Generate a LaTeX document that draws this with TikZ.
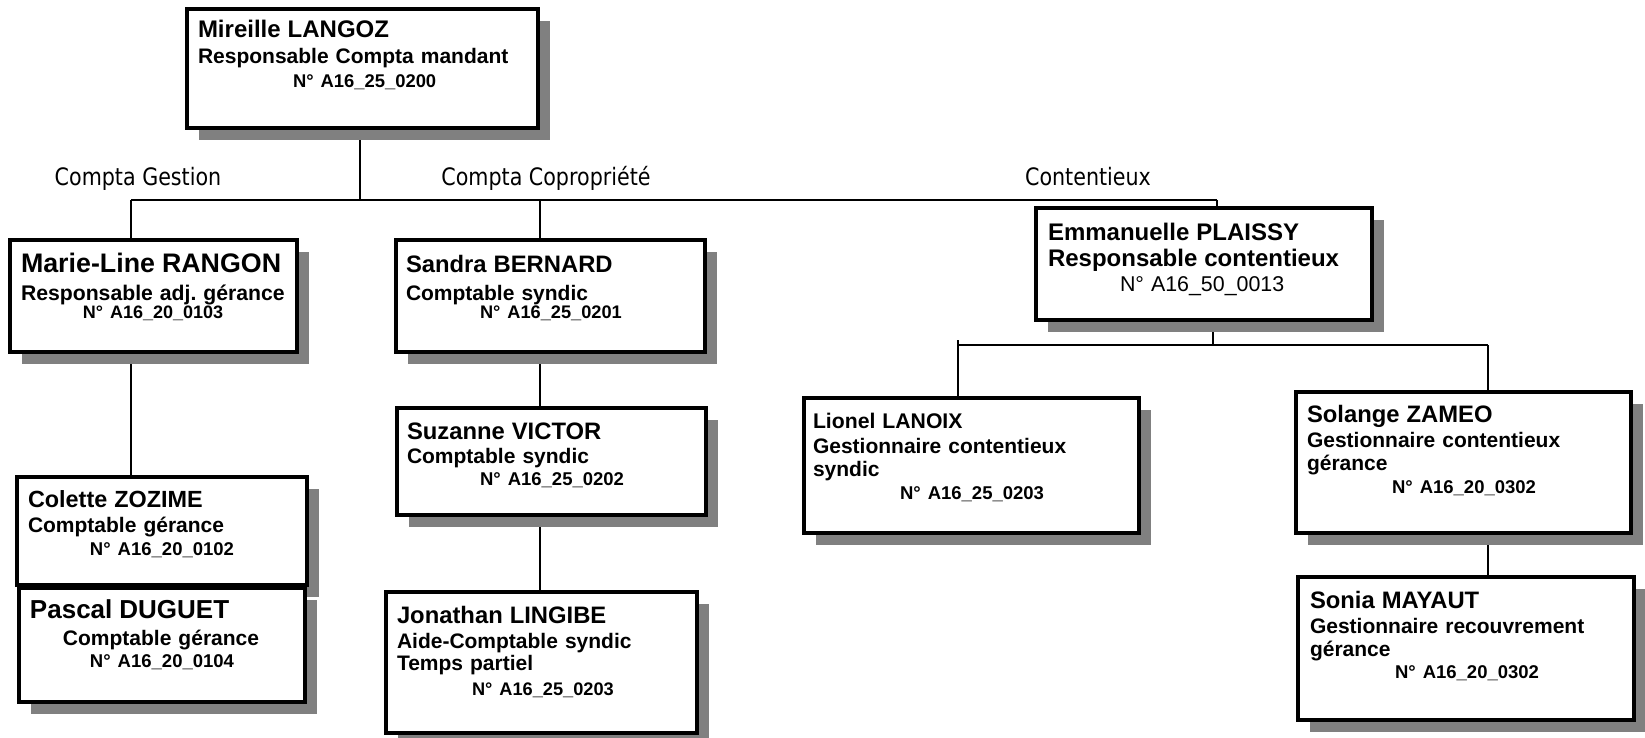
\documentclass[tikz,border=0pt]{standalone}
\usepackage{fontspec}
\setmainfont{Liberation Sans}
\newfontfamily\labelfont[FakeStretch=0.86]{DejaVu Sans}
\usetikzlibrary{backgrounds}
\usetikzlibrary{shadows}
\newcommand{\taille}[1]{\fontsize{#1}{11.5pt}\selectfont}

\begin{document}
\begin{tikzpicture}[x=0.5pt,y=-0.5pt,
	fiche/.style={draw,line width=1.6pt,fill=white,anchor=north west,outer sep=0pt,
		inner xsep=5.5pt,inner ysep=0pt,align=left,
		font=\fontsize{10.5pt}{11.5pt}\selectfont\bfseries,
		drop shadow={shadow xshift=6pt,shadow yshift=-6pt,opacity=1,fill=gray}},
	lien/.style={line width=0.85pt},
	pole/.style={anchor=base,font=\labelfont\fontsize{12pt}{14pt}\selectfont}]
	\useasboundingbox (0,0) rectangle (1645,738);
	
	% direction
	\node[fiche,text width=164.5pt,text height=14.5pt,text depth=45pt] (lang) at (187,9)
	{{\taille{12pt}Mireille LANGOZ}\\[1.5pt]
		Responsable Compta mandant\\[0.5pt]
		\hspace*{47.5pt}{\taille{9.2pt}N° A16\_25\_0200}};
	
	\node[pole] (pg) at (138,185) {Compta Gestion};
	\node[pole] (pc) at (546,185) {Compta Copropriété};
	\node[pole] (pt) at (1088,185) {Contentieux};
	
	% compta gestion
	\node[fiche,text width=132.5pt,text height=16pt,text depth=40pt] (rang) at (10,240)
	{\mbox{\taille{13.4pt}Marie-Line RANGON}\\[2.5pt]
		\mbox{\taille{10.6pt}Responsable adj.\ gérance}\\[-2.5pt]
		\hspace*{31pt}{\taille{9pt}N° A16\_20\_0103}};
	\node[fiche,text width=134pt,text height=15pt,text depth=39pt] (zozi) at (17,477)
	{{\taille{11.7pt}Colette ZOZIME}\\[1pt]
		Comptable gérance\\
		\hspace*{31pt}{\taille{9.25pt}N° A16\_20\_0102}};
	\node[fiche,text width=132pt,text height=15pt,text depth=42pt] (dugu) at (19,588)
	{{\taille{13pt}Pascal DUGUET}\\[2pt]
		\hspace*{16.5pt}Comptable gérance\\[-0.5pt]
		\hspace*{30pt}{\taille{9.25pt}N° A16\_20\_0104}};
	
	% compta copropriete
	\node[fiche,inner xsep=5pt,text width=144.5pt,text height=16pt,text depth=40pt] (bern) at (396,240)
	{{\taille{11.9pt}Sandra BERNARD}\\[2.5pt]
		Comptable syndic\\[-2.5pt]
		\hspace*{37pt}{\taille{9.1pt}N° A16\_25\_0201}};
	\node[fiche,inner xsep=5pt,text width=144.5pt,text height=15.5pt,text depth=38pt] (vict) at (397,408)
	{{\taille{11.9pt}Suzanne VICTOR}\\[0.5pt]
		Comptable syndic\\[-0.5pt]
		\hspace*{36.5pt}{\taille{9.25pt}N° A16\_25\_0202}};
	\node[fiche,text width=144.5pt,text height=15.5pt,text depth=55pt] (ling) at (386,592)
	{{\taille{11.9pt}Jonathan LINGIBE}\\[1pt]
		Aide-Comptable syndic\\[-0.5pt]
		Temps partiel\\[1pt]
		\hspace*{37.5pt}{\taille{9.1pt}N° A16\_25\_0203}};
	
	% contentieux
	\node[fiche,inner xsep=6pt,text width=156pt,text height=16.5pt,text depth=39.5pt] (plai) at (1036,208)
	{{\taille{12pt}Emmanuelle PLAISSY}\\[1.5pt]
		{\taille{12pt}Responsable contentieux}\\[1pt]
		\hspace*{36pt}{\taille{10.7pt}\mdseries N° A16\_50\_0013}};
	\node[fiche,inner xsep=4.5pt,text width=158.5pt,text height=15pt,text depth=52.5pt] (lano) at (804,398)
	{{\taille{10.6pt}Lionel LANOIX}\\[1pt]
		Gestionnaire contentieux\\
		syndic\\
		\hspace*{43.5pt}{\taille{9.25pt}N° A16\_25\_0203}};
	\node[fiche,text width=156.5pt,text height=15pt,text depth=55.5pt] (zame) at (1296,392)
	{{\taille{11.9pt}Solange ZAMEO}\\[1pt]
		Gestionnaire contentieux\\
		gérance\\
		\hspace*{42.5pt}{\taille{9.25pt}N° A16\_20\_0302}};
	\node[fiche,inner xsep=6pt,text width=156pt,text height=15.5pt,text depth=56pt] (maya) at (1298,577)
	{{\taille{11.9pt}Sonia MAYAUT}\\[1pt]
		Gestionnaire recouvrement\\
		gérance\\[-0.5pt]
		\hspace*{42.5pt}{\taille{9.25pt}N° A16\_20\_0302}};
	
	% liaisons, sous les fiches
	\begin{scope}[on background layer]
		\fill[white] (0,0) rectangle (1645,738);
		\coordinate (bg) at (131,200);
		\coordinate (pA) at (360,200);
		\coordinate (pS) at (540,200);
		\coordinate (pE) at (1217,200);
		\coordinate (pC) at (1213,345);
		\coordinate (sg) at (958,340);
		\coordinate (sd) at (1488,345);
		\draw[lien] (bg) -- (pE);
		\draw[lien] (pA) -- (pA |- lang.south);
		\draw[lien] (bg) -- (bg |- rang.north);
		\draw[lien] (pS) -- (pS |- bern.north);
		\draw[lien] (pE) -- (pE |- plai.north);
		\draw[lien] (rang.south -| bg) -- (zozi.north -| bg);
		\draw[lien] (bern.south -| pS) -- (vict.north -| pS);
		\draw[lien] (vict.south -| pS) -- (ling.north -| pS);
		\draw[lien] (sg |- sd) -- (sd);
		\draw[lien] (pC) -- (pC |- plai.south);
		\draw[lien] (sg) -- (sg |- lano.north);
		\draw[lien] (sd) -- (sd |- zame.north);
		\draw[lien] (zame.south -| sd) -- (maya.north -| sd);
	\end{scope}
\end{tikzpicture}
\end{document}
